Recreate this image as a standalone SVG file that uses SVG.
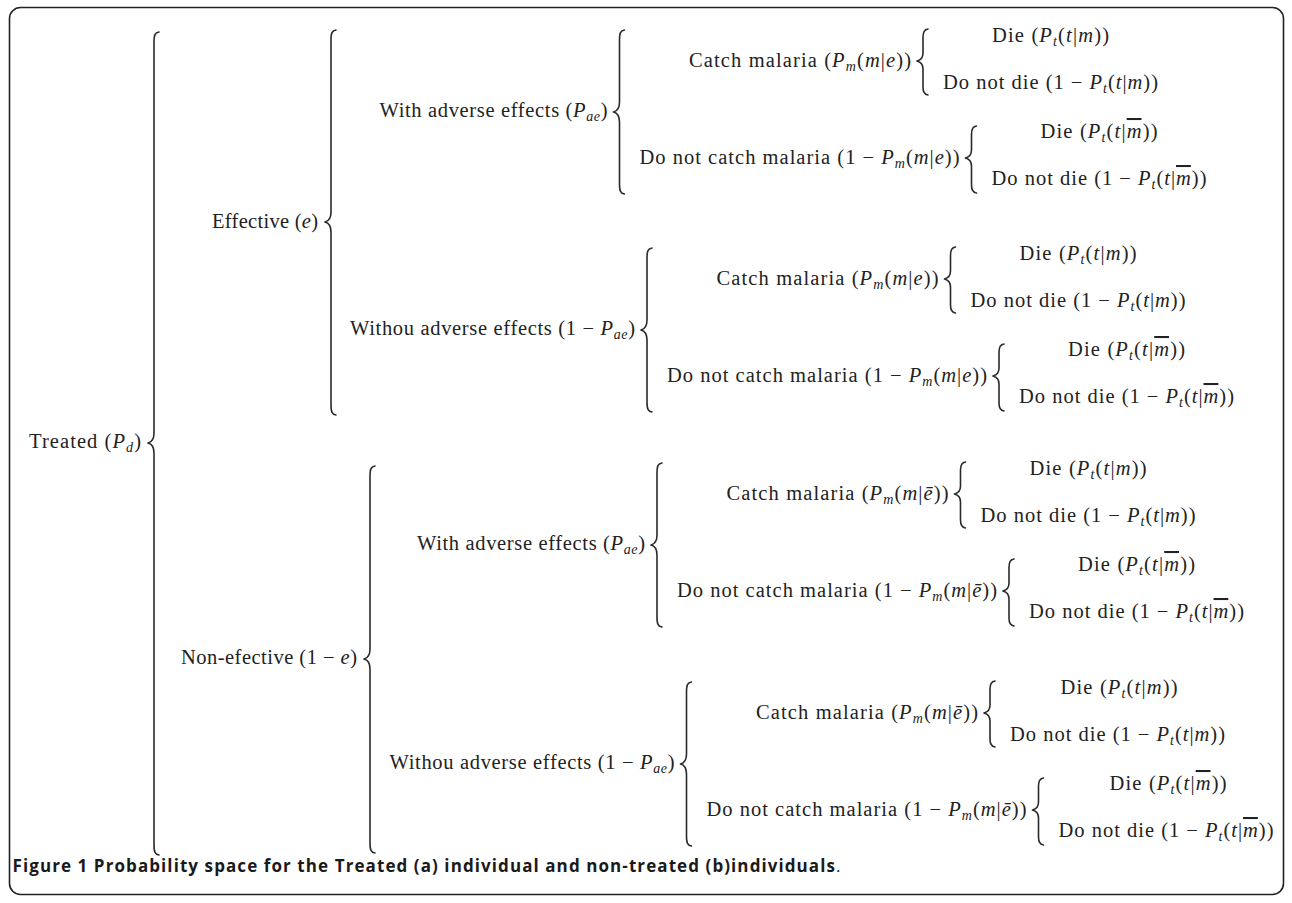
<svg xmlns="http://www.w3.org/2000/svg" width="1292" height="903" viewBox="0 0 1292 903">
<style>
.t{font-family:"Liberation Serif",serif;font-size:20.5px;fill:#222}
.i{font-style:italic}
.s{font-size:14px;font-style:italic}
.o{font-style:italic;text-decoration:overline}
.b{fill:none;stroke:#2a2a2a;stroke-width:1.6;stroke-linecap:round;stroke-linejoin:round}
.cap{font-family:"Open Sans","Liberation Sans",sans-serif;font-size:17px;font-weight:bold;fill:#1a1a1a}
</style>
<rect x="9.5" y="7.5" width="1274" height="887" rx="11" fill="#fff" stroke="#222" stroke-width="1.6"/>

<g id="connectors" class="b">
<path d="M159,32 C155,32.5 154,35 154,42 L154,433 C154,438 152,442 148,443 C152,444 154,448 154,453 L154,845 C154,852 155,854.5 159,855"/>
<path d="M336,30 C332,30.5 331,33 331,40 L331,212 C331,217 329,221 325,222 C329,223 331,227 331,232 L331,405 C331,412 332,414.5 336,415"/>
<path d="M375,466 C371,466.5 370,469 370,476 L370,649 C370,654 368,658 364,659 C368,660 370,664 370,669 L370,843 C370,850 371,852.5 375,853"/>
<path d="M624.5,30 C620.5,30.5 619.5,33 619.5,40 L619.5,102 C619.5,107 617.5,111 613.5,112 C617.5,113 619.5,117 619.5,122 L619.5,184 C619.5,191 620.5,193.5 624.5,194"/>
<path d="M928,29 C924,29.5 923,32 923,37 L923,53 C923,57 921,60 917,61 C921,62 923,65 923,69 L923,87 C923,92 924,94.5 928,95"/>
<path d="M976.5,126 C972.5,126.5 971.5,129 971.5,134 L971.5,150 C971.5,154 969.5,157 965.5,158 C969.5,159 971.5,162 971.5,166 L971.5,185 C971.5,190 972.5,192.5 976.5,193"/>
<path d="M652,248 C648,248.5 647,251 647,258 L647,320 C647,325 645,329 641,330 C645,331 647,335 647,340 L647,402 C647,409 648,411.5 652,412"/>
<path d="M955.5,247 C951.5,247.5 950.5,250 950.5,255 L950.5,271 C950.5,275 948.5,278 944.5,279 C948.5,280 950.5,283 950.5,287 L950.5,305 C950.5,310 951.5,312.5 955.5,313"/>
<path d="M1004,344 C1000,344.5 999,347 999,352 L999,368 C999,372 997,375 993,376 C997,377 999,380 999,384 L999,403 C999,408 1000,410.5 1004,411"/>
<path d="M662,463 C658,463.5 657,466 657,473 L657,535 C657,540 655,544 651,545 C655,546 657,550 657,555 L657,617 C657,624 658,626.5 662,627"/>
<path d="M965.5,462 C961.5,462.5 960.5,465 960.5,470 L960.5,486 C960.5,490 958.5,493 954.5,494 C958.5,495 960.5,498 960.5,502 L960.5,520 C960.5,525 961.5,527.5 965.5,528"/>
<path d="M1014,559 C1010,559.5 1009,562 1009,567 L1009,583 C1009,587 1007,590 1003,591 C1007,592 1009,595 1009,599 L1009,618 C1009,623 1010,625.5 1014,626"/>
<path d="M691.5,682 C687.5,682.5 686.5,685 686.5,692 L686.5,754 C686.5,759 684.5,763 680.5,764 C684.5,765 686.5,769 686.5,774 L686.5,836 C686.5,843 687.5,845.5 691.5,846"/>
<path d="M995,681 C991,681.5 990,684 990,689 L990,705 C990,709 988,712 984,713 C988,714 990,717 990,721 L990,739 C990,744 991,746.5 995,747"/>
<path d="M1043.5,778 C1039.5,778.5 1038.5,781 1038.5,786 L1038.5,802 C1038.5,806 1036.5,809 1032.5,810 C1036.5,811 1038.5,814 1038.5,818 L1038.5,837 C1038.5,842 1039.5,844.5 1043.5,845"/>
</g>

<g id="treated"><text class="t" x="141" y="448" text-anchor="end" textLength="112">Treated (<tspan class="i">P</tspan><tspan class="s" dy="4">d</tspan><tspan dy="-4">)</tspan></text></g>
<g id="effective"><text class="t" x="318" y="228" text-anchor="end" textLength="106">Effective (<tspan class="i">e</tspan>)</text></g>
<g id="noneffective"><text class="t" x="357" y="664" text-anchor="end" textLength="176">Non-efective (1 − <tspan class="i">e</tspan>)</text></g>

<g id="g1-ae"><text class="t" x="607.5" y="117" text-anchor="end" textLength="228">With adverse effects (<tspan class="i">P</tspan><tspan class="s" dy="4">ae</tspan><tspan dy="-4">)</tspan></text></g>
<g id="g1-catch"><text class="t" x="911" y="67" text-anchor="end" textLength="222">Catch malaria (<tspan class="i">P</tspan><tspan class="s" dy="4">m</tspan><tspan dy="-4">(</tspan><tspan class="i">m</tspan>|<tspan class="i">e</tspan>))</text></g>
<g id="g1-catch-die"><text class="t" x="1050.5" y="42" text-anchor="middle" textLength="117">Die (<tspan class="i">P</tspan><tspan class="s" dy="4">t</tspan><tspan dy="-4">(</tspan><tspan class="i">t</tspan>|<tspan class="i">m</tspan>))</text></g>
<g id="g1-catch-live"><text class="t" x="943" y="89" textLength="215">Do not die (1 − <tspan class="i">P</tspan><tspan class="s" dy="4">t</tspan><tspan dy="-4">(</tspan><tspan class="i">t</tspan>|<tspan class="i">m</tspan>))</text></g>
<g id="g1-nocatch"><text class="t" x="959.5" y="164" text-anchor="end" textLength="320">Do not catch malaria (1 − <tspan class="i">P</tspan><tspan class="s" dy="4">m</tspan><tspan dy="-4">(</tspan><tspan class="i">m</tspan>|<tspan class="i">e</tspan>))</text></g>
<g id="g1-nocatch-die"><text class="t" x="1099" y="138" text-anchor="middle" textLength="117">Die (<tspan class="i">P</tspan><tspan class="s" dy="4">t</tspan><tspan dy="-4">(</tspan><tspan class="i">t</tspan>|<tspan class="o">m</tspan>))</text></g>
<g id="g1-nocatch-live"><text class="t" x="991.5" y="185" textLength="215">Do not die (1 − <tspan class="i">P</tspan><tspan class="s" dy="4">t</tspan><tspan dy="-4">(</tspan><tspan class="i">t</tspan>|<tspan class="o">m</tspan>))</text></g>

<g id="g2-noae"><text class="t" x="635" y="335" text-anchor="end" textLength="285">Withou adverse effects (1 − <tspan class="i">P</tspan><tspan class="s" dy="4">ae</tspan><tspan dy="-4">)</tspan></text></g>
<g id="g2-catch"><text class="t" x="938.5" y="285" text-anchor="end" textLength="222">Catch malaria (<tspan class="i">P</tspan><tspan class="s" dy="4">m</tspan><tspan dy="-4">(</tspan><tspan class="i">m</tspan>|<tspan class="i">e</tspan>))</text></g>
<g id="g2-catch-die"><text class="t" x="1078" y="260" text-anchor="middle" textLength="117">Die (<tspan class="i">P</tspan><tspan class="s" dy="4">t</tspan><tspan dy="-4">(</tspan><tspan class="i">t</tspan>|<tspan class="i">m</tspan>))</text></g>
<g id="g2-catch-live"><text class="t" x="970.5" y="307" textLength="215">Do not die (1 − <tspan class="i">P</tspan><tspan class="s" dy="4">t</tspan><tspan dy="-4">(</tspan><tspan class="i">t</tspan>|<tspan class="i">m</tspan>))</text></g>
<g id="g2-nocatch"><text class="t" x="987" y="382" text-anchor="end" textLength="320">Do not catch malaria (1 − <tspan class="i">P</tspan><tspan class="s" dy="4">m</tspan><tspan dy="-4">(</tspan><tspan class="i">m</tspan>|<tspan class="i">e</tspan>))</text></g>
<g id="g2-nocatch-die"><text class="t" x="1126.5" y="356" text-anchor="middle" textLength="117">Die (<tspan class="i">P</tspan><tspan class="s" dy="4">t</tspan><tspan dy="-4">(</tspan><tspan class="i">t</tspan>|<tspan class="o">m</tspan>))</text></g>
<g id="g2-nocatch-live"><text class="t" x="1019" y="403" textLength="215">Do not die (1 − <tspan class="i">P</tspan><tspan class="s" dy="4">t</tspan><tspan dy="-4">(</tspan><tspan class="i">t</tspan>|<tspan class="o">m</tspan>))</text></g>

<g id="g3-ae"><text class="t" x="645" y="550" text-anchor="end" textLength="228">With adverse effects (<tspan class="i">P</tspan><tspan class="s" dy="4">ae</tspan><tspan dy="-4">)</tspan></text></g>
<g id="g3-catch"><text class="t" x="948.5" y="500" text-anchor="end" textLength="222">Catch malaria (<tspan class="i">P</tspan><tspan class="s" dy="4">m</tspan><tspan dy="-4">(</tspan><tspan class="i">m</tspan>|<tspan class="i">ē</tspan>))</text></g>
<g id="g3-catch-die"><text class="t" x="1088" y="475" text-anchor="middle" textLength="117">Die (<tspan class="i">P</tspan><tspan class="s" dy="4">t</tspan><tspan dy="-4">(</tspan><tspan class="i">t</tspan>|<tspan class="i">m</tspan>))</text></g>
<g id="g3-catch-live"><text class="t" x="980.5" y="522" textLength="215">Do not die (1 − <tspan class="i">P</tspan><tspan class="s" dy="4">t</tspan><tspan dy="-4">(</tspan><tspan class="i">t</tspan>|<tspan class="i">m</tspan>))</text></g>
<g id="g3-nocatch"><text class="t" x="997" y="597" text-anchor="end" textLength="320">Do not catch malaria (1 − <tspan class="i">P</tspan><tspan class="s" dy="4">m</tspan><tspan dy="-4">(</tspan><tspan class="i">m</tspan>|<tspan class="i">ē</tspan>))</text></g>
<g id="g3-nocatch-die"><text class="t" x="1136.5" y="571" text-anchor="middle" textLength="117">Die (<tspan class="i">P</tspan><tspan class="s" dy="4">t</tspan><tspan dy="-4">(</tspan><tspan class="i">t</tspan>|<tspan class="o">m</tspan>))</text></g>
<g id="g3-nocatch-live"><text class="t" x="1029" y="618" textLength="215">Do not die (1 − <tspan class="i">P</tspan><tspan class="s" dy="4">t</tspan><tspan dy="-4">(</tspan><tspan class="i">t</tspan>|<tspan class="o">m</tspan>))</text></g>

<g id="g4-noae"><text class="t" x="674.5" y="769" text-anchor="end" textLength="285">Withou adverse effects (1 − <tspan class="i">P</tspan><tspan class="s" dy="4">ae</tspan><tspan dy="-4">)</tspan></text></g>
<g id="g4-catch"><text class="t" x="978" y="719" text-anchor="end" textLength="222">Catch malaria (<tspan class="i">P</tspan><tspan class="s" dy="4">m</tspan><tspan dy="-4">(</tspan><tspan class="i">m</tspan>|<tspan class="i">ē</tspan>))</text></g>
<g id="g4-catch-die"><text class="t" x="1119" y="694" text-anchor="middle" textLength="117">Die (<tspan class="i">P</tspan><tspan class="s" dy="4">t</tspan><tspan dy="-4">(</tspan><tspan class="i">t</tspan>|<tspan class="i">m</tspan>))</text></g>
<g id="g4-catch-live"><text class="t" x="1010" y="741" textLength="215">Do not die (1 − <tspan class="i">P</tspan><tspan class="s" dy="4">t</tspan><tspan dy="-4">(</tspan><tspan class="i">t</tspan>|<tspan class="i">m</tspan>))</text></g>
<g id="g4-nocatch"><text class="t" x="1026.5" y="816" text-anchor="end" textLength="320">Do not catch malaria (1 − <tspan class="i">P</tspan><tspan class="s" dy="4">m</tspan><tspan dy="-4">(</tspan><tspan class="i">m</tspan>|<tspan class="i">ē</tspan>))</text></g>
<g id="g4-nocatch-die"><text class="t" x="1168" y="790" text-anchor="middle" textLength="117">Die (<tspan class="i">P</tspan><tspan class="s" dy="4">t</tspan><tspan dy="-4">(</tspan><tspan class="i">t</tspan>|<tspan class="o">m</tspan>))</text></g>
<g id="g4-nocatch-live"><text class="t" x="1058.5" y="837" textLength="215">Do not die (1 − <tspan class="i">P</tspan><tspan class="s" dy="4">t</tspan><tspan dy="-4">(</tspan><tspan class="i">t</tspan>|<tspan class="o">m</tspan>))</text></g>

<g id="caption"><text class="cap" x="12.5" y="872" textLength="828">Figure 1 Probability space for the Treated (a) individual and non-treated (b)individuals<tspan font-weight="normal">.</tspan></text></g>
</svg>
